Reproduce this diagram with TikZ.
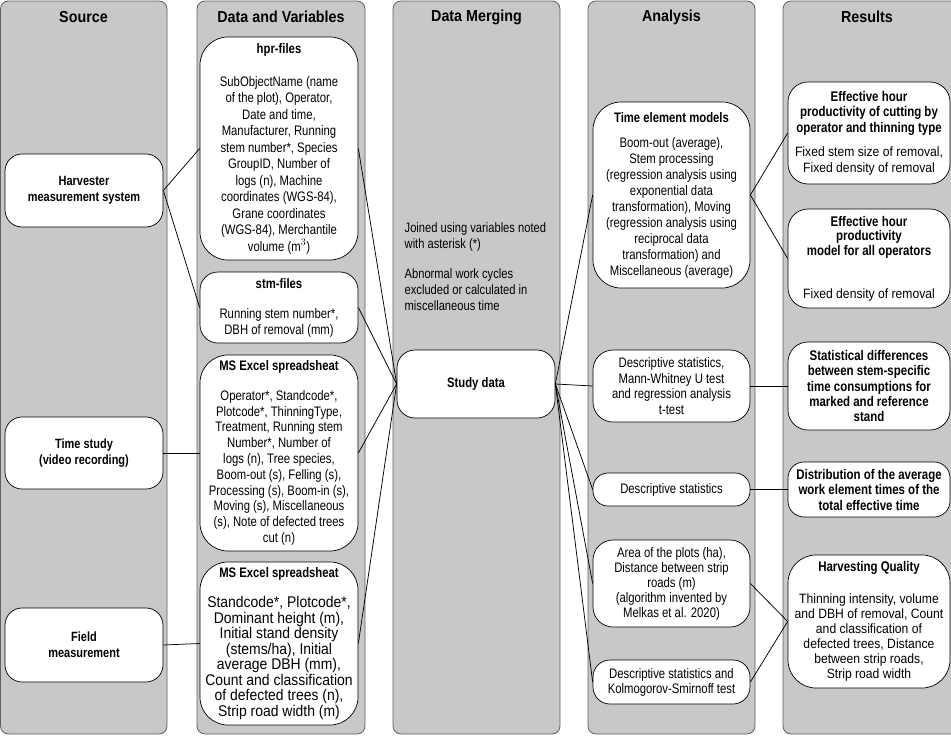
\documentclass[tikz,border=0pt]{standalone}
\usepackage{fontspec}
\setmainfont{Liberation Sans}[FakeStretch=0.82]
\newfontfamily\widefont{Liberation Sans}[FakeStretch=0.9]
\newcommand\resbold[1]{{\normalfont\bfseries\fontsize{14}{15}\selectfont #1}}
\definecolor{panelfill}{RGB}{200,200,200}
\definecolor{panelline}{RGB}{95,95,95}
\begin{document}
\begin{tikzpicture}[x=1pt,y=-1pt,
  panel/.style={draw=panelline, fill=panelfill, line width=0.8pt, rounded corners=8pt},
  hdr/.style={font=\widefont\bfseries\fontsize{15.9}{18}\selectfont, inner sep=0pt},
  box/.style={draw=black, fill=white, line width=0.7pt, align=center, inner sep=0pt, rounded corners=#1},
  box/.default=16pt,
  srcbox/.style={box=17pt, minimum width=158pt, font=\bfseries\fontsize{13.4}{16}\selectfont},
  databox/.style={box=#1, minimum width=158pt},
  anbox/.style={box=#1, minimum width=157pt},
  resbox/.style={box=#1, minimum width=162pt},
  conn/.style={draw=black, line width=0.75pt}
]
\useasboundingbox (0,0) rectangle (951,736);
% panels
\draw[panel] (0.5,1) rectangle (167,734);
\draw[panel] (197,1) rectangle (365,734);
\draw[panel] (393,1) rectangle (560,734);
\draw[panel] (588,1) rectangle (755,734);
\draw[panel] (783,1) rectangle (960,734);
% headers
\node[hdr] (h1) at (83.5,17) {Source};
\node[hdr] (h2) at (281,17) {Data and Variables};
\node[hdr] (h3) at (476.5,17) {Data Merging};
\node[hdr] (h4) at (671.5,17) {Analysis};
\node[hdr] (h5) at (867,17) {Results};
% source
\node[srcbox, minimum height=73pt] (harv) at (84,190.5) {Harvester\\measurement system};
\node[srcbox, minimum height=72pt] (time) at (84,453) {Time study\\(video recording)};
\node[srcbox, minimum height=74pt] (field) at (84,645) {Field\\measurement};
% data and variables
\node[databox=28pt, minimum height=223pt, font=\fontsize{13.8}{16.5}\selectfont] (hpr) at (279,148.5)
 {\textbf{hpr-files}\\[16.5pt]SubObjectName (name\\of the plot), Operator,\\Date and time,\\Manufacturer, Running\\stem number*, Species\\GroupID, Number of\\logs (n), Machine\\coordinates (WGS-84),\\Grane coordinates\\(WGS-84), Merchantile\\volume (m$^3$)};
\node[databox=18pt, minimum height=71pt, font=\fontsize{13.8}{16}\selectfont] (stm) at (279,307.5)
 {\textbf{stm-files}\\[14pt]Running stem number*,\\DBH of removal (mm)};
\node[databox=28pt, minimum height=196pt, font=\fontsize{13.8}{15.8}\selectfont] (xl1) at (279,453)
 {\textbf{MS Excel spreadsheat}\\[14pt]Operator*, Standcode*,\\Plotcode*, ThinningType,\\Treatment, Running stem\\Number*, Number of\\logs (n), Tree species,\\Boom-out (s), Felling (s),\\Processing (s), Boom-in (s),\\Moving (s), Miscellaneous\\(s), Note of defected trees\\cut (n)};
\node[databox=28pt, minimum height=163pt, font=\widefont\fontsize{15.5}{15.5}\selectfont] (xl2) at (279,643.5)
 {{\normalfont\bfseries\fontsize{13.8}{15.5}\selectfont MS Excel spreadsheat}\\[15pt]Standcode*, Plotcode*,\\Dominant height (m),\\Initial stand density\\(stems/ha), Initial\\average DBH (mm),\\Count and classification\\of defected trees (n),\\Strip road width (m)};
% merging
\node[anchor=north west, align=left, inner sep=0pt, font=\fontsize{13.6}{16}\selectfont] (note) at (404.5,222)
 {Joined using variables noted\\with asterisk (*)\\[14pt]Abnormal work cycles\\excluded or calculated in\\miscellaneous time};
\node[box=18pt, minimum width=158pt, minimum height=68pt, font=\bfseries\fontsize{13.8}{16}\selectfont] (study) at (476,384) {Study data};
% analysis
\node[anbox=28pt, minimum height=186pt, font=\fontsize{13.8}{16}\selectfont] (tem) at (671.5,195)
 {\textbf{Time element models}\\[9pt]Boom-out (average),\\Stem processing\\(regression analysis using\\exponential data\\transformation), Moving\\(regression analysis using\\reciprocal data\\transformation) and\\Miscellaneous (average)};
\node[anbox=20pt, minimum height=72pt, font=\fontsize{13.8}{15.7}\selectfont] (mw) at (671.5,386)
 {Descriptive statistics,\\Mann-Whitney U test\\and regression analysis\\t-test};
\node[anbox=15pt, minimum height=33pt, font=\fontsize{13.8}{16}\selectfont] (ds) at (671.5,489.5)
 {Descriptive statistics};
\node[anbox=20pt, minimum height=87pt, font=\fontsize{13.8}{15}\selectfont] (area) at (671.5,583.5)
 {Area of the plots (ha),\\Distance between strip\\roads (m)\\(algorithm invented by\\Melkas et al. 2020)};
\node[anbox=17pt, minimum height=44pt, font=\fontsize{13.8}{15}\selectfont] (ks) at (671.5,682)
 {Descriptive statistics and\\Kolmogorov-Smirnoff test};
% results
\node[resbox=20pt, minimum height=102pt, font=\widefont\fontsize{13.5}{15.5}\selectfont] (eh1) at (869,133)
 {\resbold{Effective hour}\\\resbold{productivity of cutting by}\\\resbold{operator and thinning type}\\[9pt]Fixed stem size of removal,\\Fixed density of removal};
\node[resbox=20pt, minimum height=99pt, font=\widefont\fontsize{13.5}{14.7}\selectfont] (eh2) at (869,258.5)
 {\resbold{Effective hour}\\\resbold{productivity}\\\resbold{model for all operators}\\[28pt]Fixed density of removal};
\node[resbox=20pt, minimum height=88pt, font=\bfseries\fontsize{14}{15.3}\selectfont] (sd) at (869,386)
 {Statistical differences\\between stem-specific\\time consumptions for\\marked and reference\\stand};
\node[resbox=16pt, minimum height=55pt, font=\bfseries\fontsize{14}{15.5}\selectfont] (dist) at (869,489.5)
 {Distribution of the average\\work element times of the\\total effective time};
\node[resbox=28pt, minimum height=133pt, font=\widefont\fontsize{13.5}{15}\selectfont] (hq) at (869,621.5)
 {\resbold{Harvesting Quality}\\[17pt]Thinning intensity, volume\\and DBH of removal, Count\\and classification of\\defected trees, Distance\\between strip roads,\\Strip road width};
% connectors
\draw[conn] (harv.east) -- (hpr.west);
\draw[conn] (harv.east) -- (stm.west);
\draw[conn] (time.east) -- (xl1.west);
\draw[conn] (field.east) -- (xl2.west);
\draw[conn] (hpr.east) -- (study.west);
\draw[conn] (stm.east) -- (study.west);
\draw[conn] (xl1.east) -- (study.west);
\draw[conn] (xl2.east) -- (study.west);
\draw[conn] (study.east) -- (tem.west);
\draw[conn] (study.east) -- (mw.west);
\draw[conn] (study.east) -- (ds.west);
\draw[conn] (study.east) -- (area.west);
\draw[conn] (study.east) -- (ks.west);
\draw[conn] (tem.east) -- (eh1.west);
\draw[conn] (tem.east) -- (eh2.west);
\draw[conn] (mw.east) -- (sd.west);
\draw[conn] (ds.east) -- (dist.west);
\draw[conn] (area.east) -- (hq.west);
\draw[conn] (ks.east) -- (hq.west);
\end{tikzpicture}
\end{document}
